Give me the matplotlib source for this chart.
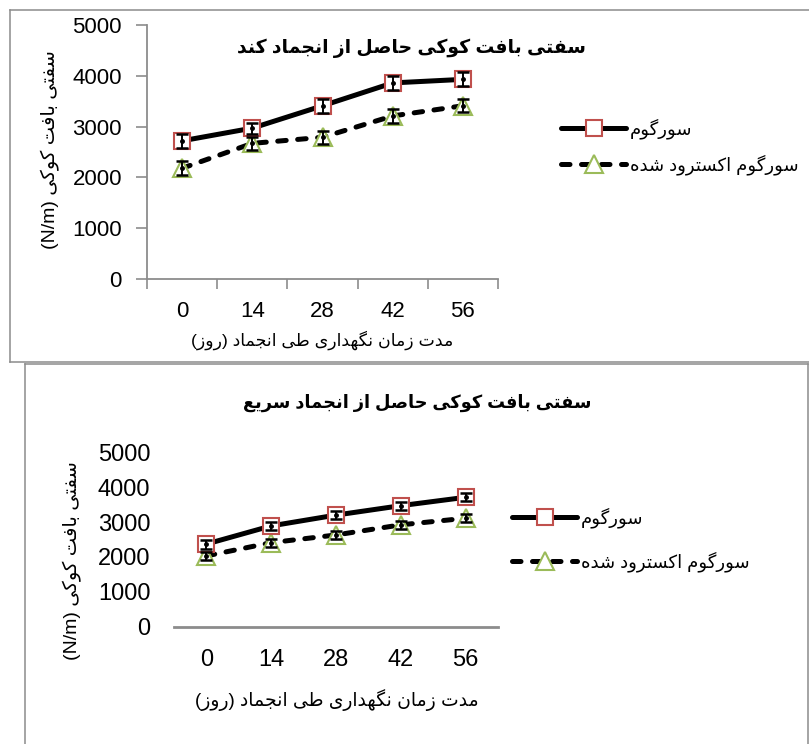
import matplotlib
matplotlib.use("Agg")
import matplotlib.pyplot as plt
from matplotlib.lines import Line2D

# ---- data ----
days = ["0", "14", "28", "42", "56"]

slow_sorghum = [2720, 2970, 3410, 3860, 3930]
slow_sorghum_err = [135, 110, 140, 135, 135]
slow_extruded = [2180, 2670, 2790, 3210, 3410]
slow_extruded_err = [140, 130, 130, 130, 130]

fast_sorghum = [2370, 2890, 3200, 3470, 3710]
fast_sorghum_err = [130, 115, 115, 115, 115]
fast_extruded = [2030, 2410, 2630, 2920, 3110]
fast_extruded_err = [120, 115, 115, 115, 115]

yticks = [0, 1000, 2000, 3000, 4000, 5000]

title_slow = "سفتی بافت کوکی حاصل از انجماد کند"
title_fast = "سفتی بافت کوکی حاصل از انجماد سریع"
ylabel_fa = "سفتی بافت کوکی"
ylabel_unit = "(N/m)"
xlabel_fa = "مدت زمان نگهداری طی انجماد (روز)"
name_sorghum = "سورگوم"
name_extruded = "سورگوم اکسترود شده"

# ---- minimal Persian shaping (matplotlib has no bidi / joining) ----
# letter -> first code point of (isolated, final, initial, medial) forms
FORMS = {
    "ا": (0xFE8D, 2), "ب": (0xFE8F, 4), "ت": (0xFE95, 4), "ج": (0xFE9D, 4),
    "ح": (0xFEA1, 4), "د": (0xFEA9, 2), "ر": (0xFEAD, 2), "ز": (0xFEAF, 2),
    "س": (0xFEB1, 4), "ش": (0xFEB5, 4), "ص": (0xFEB9, 4), "ط": (0xFEC1, 4),
    "ع": (0xFEC9, 4), "ف": (0xFED1, 4), "ل": (0xFEDD, 4), "م": (0xFEE1, 4),
    "ن": (0xFEE5, 4), "ه": (0xFEE9, 4), "و": (0xFEED, 2), "ک": (0xFB8E, 4),
    "گ": (0xFB92, 4), "ی": (0xFBFC, 4),
}


def shape(s):
    out = []
    for i, c in enumerate(s):
        if c not in FORMS:
            out.append(c)
            continue
        base, n = FORMS[c]
        prev = s[i - 1] if i > 0 else None
        nxt = s[i + 1] if i + 1 < len(s) else None
        jp = prev in FORMS and FORMS[prev][1] == 4
        jn = n == 4 and nxt in FORMS
        if jp and jn:
            out.append(chr(base + 3))
        elif jp:
            out.append(chr(base + 1))
        elif jn:
            out.append(chr(base + 2))
        else:
            out.append(chr(base))
    return "".join(out)


def rtl(s):
    r = shape(s)[::-1]
    return r.translate(str.maketrans("()", ")("))


plt.rcParams["font.family"] = ["Liberation Sans", "DejaVu Sans"]

GRAY = "#8c8c8c"
RED = "#C0504D"
GREEN = "#9BBB59"

fig = plt.figure(figsize=(8.09, 7.44), dpi=100)
W, H = 809, 744


def fx(px):
    return px / W


def fy(py):
    return 1 - py / H


# panel borders
for (x0, y0, x1, y1) in [(9.5, 10, 812, 10), (9.5, 10, 9.5, 362), (9.5, 362, 812, 362),
                         (24.5, 364, 808, 364), (24.5, 364, 24.5, 750), (807.5, 364, 807.5, 750)]:
    fig.add_artist(Line2D([fx(x0), fx(x1)], [fy(y0), fy(y1)], color=GRAY, lw=1.1,
                          transform=fig.transFigure))


def draw(ax, s, s_err, e, e_err, lw, ms):
    x = list(range(len(days)))
    l1, = ax.plot(x, s, color="black", lw=lw, marker="s", ms=ms, mfc="white",
                  mec=RED, mew=1.5, solid_capstyle="round", zorder=3,
                  label=rtl(name_sorghum))
    l2, = ax.plot(x, e, color="black", lw=lw, ls=(0, (1.7, 2.3)), marker="^",
                  ms=ms + 1.5, mfc="white", mec=GREEN, mew=1.5,
                  dash_capstyle="round", zorder=2, label=rtl(name_extruded))
    ax.errorbar(x, s, yerr=s_err, fmt="o", ms=2.5, color="black", elinewidth=1.4,
                capsize=4, capthick=1.8, zorder=4)
    ax.errorbar(x, e, yerr=e_err, fmt="o", ms=2.5, color="black", elinewidth=1.4,
                capsize=4, capthick=1.8, zorder=4)
    ax.set_xlim(-0.5, len(days) - 0.5)
    ax.set_ylim(0, 5000)
    ax.set_yticks(yticks)
    for sp in ["top", "right"]:
        ax.spines[sp].set_visible(False)
    return l1, l2


# ---- top: slow freezing ----
ax1 = fig.add_axes([fx(147), fy(279), fx(498) - fx(147), fy(25) - fy(279)])
h = draw(ax1, slow_sorghum, slow_sorghum_err, slow_extruded, slow_extruded_err, 3.6, 11.5)
ax1.set_xticks(range(len(days)), days)
ax1.set_xticks([i - 0.5 for i in range(len(days) + 1)], minor=True)
ax1.tick_params(axis="x", which="major", length=0, pad=16, labelsize=16)
ax1.tick_params(axis="x", which="minor", length=7, color=GRAY, width=1.2)
ax1.tick_params(axis="y", length=8, color=GRAY, width=1.2, pad=10, labelsize=16)
for sp in ["left", "bottom"]:
    ax1.spines[sp].set_color(GRAY)
    ax1.spines[sp].set_linewidth(1.3)
ax1.legend(handles=h, loc="center left", bbox_to_anchor=(fx(545), fy(147)),
           bbox_transform=fig.transFigure, frameon=False, fontsize=13,
           handlelength=3.6, handletextpad=0.2, labelspacing=0.85)

fig.text(fx(411), fy(48), rtl(title_slow), ha="center", va="center",
         fontsize=13.5, fontweight="bold")
fig.text(fx(322), fy(340), rtl(xlabel_fa), ha="center", va="center", fontsize=12.5)
fig.text(fx(50), fy(150), ylabel_unit + " " + rtl(ylabel_fa), ha="center", va="center",
         rotation=90, fontsize=14)

# ---- bottom: fast freezing ----
ax2 = fig.add_axes([fx(174), fy(626.7), fx(498) - fx(174), fy(452.3) - fy(626.7)])
h = draw(ax2, fast_sorghum, fast_sorghum_err, fast_extruded, fast_extruded_err, 3.6, 11.5)
ax2.set_xticks(range(len(days)), days)
ax2.tick_params(axis="x", length=0, pad=16, labelsize=17)
ax2.tick_params(axis="y", length=0, pad=17, labelsize=17)
ax2.spines["left"].set_visible(False)
ax2.spines["bottom"].set_color(GRAY)
ax2.spines["bottom"].set_linewidth(2)
ax2.legend(handles=h, loc="center left", bbox_to_anchor=(fx(496), fy(540)),
           bbox_transform=fig.transFigure, frameon=False, fontsize=13,
           handlelength=3.6, handletextpad=0.2, labelspacing=1.3)

fig.text(fx(417), fy(403), rtl(title_fast), ha="center", va="center",
         fontsize=12.8, fontweight="bold")
fig.text(fx(337), fy(700), rtl(xlabel_fa), ha="center", va="center", fontsize=13.5)
fig.text(fx(72), fy(561), ylabel_unit + " " + rtl(ylabel_fa), ha="center", va="center",
         rotation=90, fontsize=14)

fig.savefig("out.png", dpi=100)
